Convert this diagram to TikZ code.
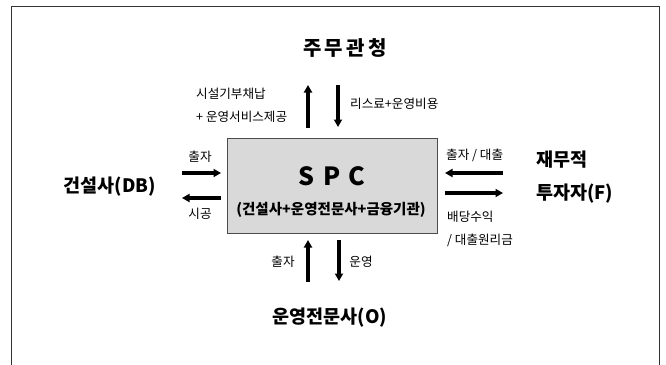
\documentclass[tikz,border=0pt]{standalone}
\usepackage{fontspec}
\setmainfont{Noto Sans CJK KR}
\usetikzlibrary{arrows.meta}
\begin{document}
\begin{tikzpicture}[x=1pt,y=-1pt,
  lbl/.style={font=\fontsize{12.6}{14}\selectfont, inner sep=0pt, align=left},
  big/.style={font=\fontsize{18.5}{20}\selectfont\bfseries, inner sep=0pt},
  arr/.style={line width=3.2pt, -{Triangle[length=7.5pt,width=8pt]}},
  frame/.style={line width=1pt, black!80}]
\useasboundingbox (0,0) rectangle (666,364);
\draw[frame] (11,370) -- (11,6) -- (659,6) -- (659,370);
% SPC box
\node[draw=black!70, line width=0.8pt, fill=black!15, minimum width=210pt, minimum height=95pt, inner sep=0pt] (spc) at (332.5,185.5) {};
\node[font=\fontsize{25}{26}\selectfont\bfseries, inner sep=0pt] (spct) at (332,176) {S\,\,P\,\,C};
\node[font=\fontsize{14.5}{16}\selectfont\bfseries, inner sep=0pt] (spcs) at (331,210) {(건설사+운영전문사+금융기관)};
% titles
\node[font=\fontsize{20}{22}\selectfont\bfseries, inner sep=0pt] (gov) at (345,48) {주\,무\,관\,청};
\node[big] (db) at (110,187) {건설사(DB)};
\node[big, anchor=west] (fin1) at (536,160) {재무적};
\node[big, anchor=west] (fin2) at (536,194) {투자자(F)};
\node[big] (op) at (330,318) {운영전문사(O)};
% top arrows
\coordinate (t1a) at (308,128); \coordinate (t1b) at (308,85);
\coordinate (t2a) at (338,85); \coordinate (t2b) at (338,127);
\draw[arr] (t1a) -- (t1b);
\draw[arr] (t2a) -- (t2b);
\node[lbl, anchor=west] (l1) at (196,94) {시설기부채납};
\node[lbl, anchor=west] (l2) at (196,117) {+ 운영서비스제공};
\node[lbl, anchor=west] (l3) at (350,104) {리스료+운영비용};
% left arrows
\coordinate (la1) at (182,173); \coordinate (la2) at (221,173);
\coordinate (lb1) at (221,198); \coordinate (lb2) at (182,198);
\draw[arr] (la1) -- (la2);
\draw[arr] (lb1) -- (lb2);
\node[lbl] (l4) at (200,157) {출자};
\node[lbl] (l5) at (200,214) {시공};
% right arrows
\coordinate (ra1) at (503,173); \coordinate (ra2) at (445,173);
\coordinate (rb1) at (445,193); \coordinate (rb2) at (503,193);
\draw[arr] (ra1) -- (ra2);
\draw[arr] (rb1) -- (rb2);
\node[lbl, anchor=west] (l6) at (446,155) {출자 / 대출};
\node[lbl, anchor=west] (l7) at (447,217) {배당수익};
\node[lbl, anchor=west] (l8) at (447,240) {/ 대출원리금};
% bottom arrows
\coordinate (ba1) at (308,282); \coordinate (ba2) at (308,240);
\coordinate (bb1) at (339,240); \coordinate (bb2) at (339,281);
\draw[arr] (ba1) -- (ba2);
\draw[arr] (bb1) -- (bb2);
\node[lbl] (l9) at (283,262) {출자};
\node[lbl] (l10) at (361,262) {운영};
\end{tikzpicture}
\end{document}
